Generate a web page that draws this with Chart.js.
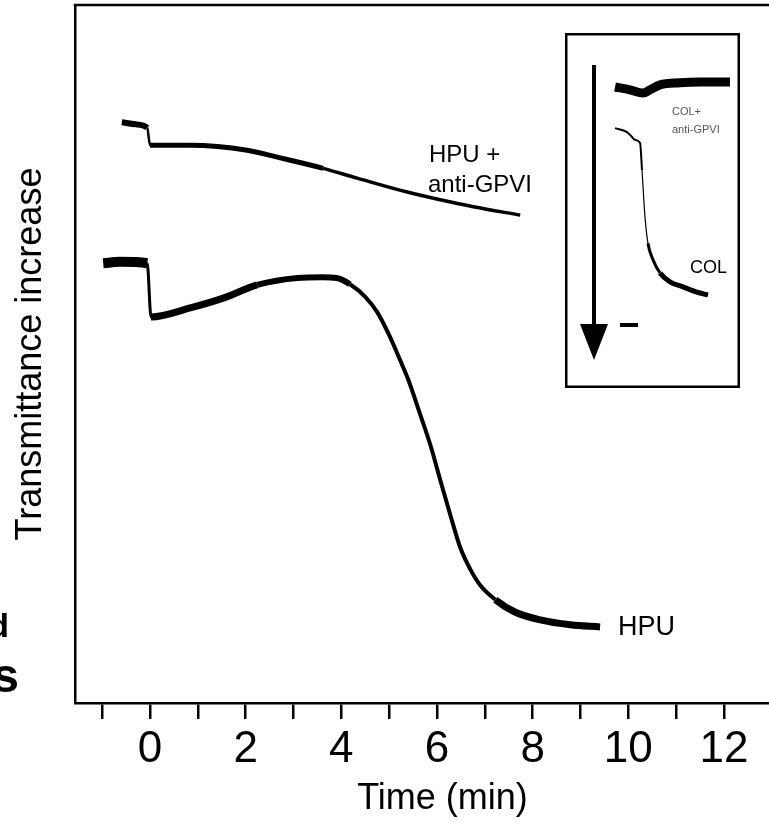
<!DOCTYPE html>
<html>
<head>
<meta charset="utf-8">
<script src="https://cdn.jsdelivr.net/npm/chart.js@4.4.0/dist/chart.umd.min.js"></script>
<style>
  html, body { margin: 0; padding: 0; background: #fff; overflow: hidden; }
  #wrap { position: relative; width: 769px; height: 825px; overflow: hidden; }
  #main { position: absolute; left: 0; top: 0; }
  #inset { position: absolute; left: 565px; top: 33px; }
</style>
</head>
<body>
<div id="wrap">
  <canvas id="main" width="810" height="825"></canvas>
  <canvas id="inset" width="175" height="355"></canvas>
</div>
<script>
// HPU + anti-GPVI trace (time in min, transmittance in arbitrary units)
const hpuAntiTime = [-0.59, -0.3, -0.06, 0.0, 0.84, 2.03, 2.66, 3.62, 4.33, 5.38, 6.07, 6.76, 7.74];
const hpuAntiValue = [83.2, 82.9, 82.4, 79.9, 79.9, 79.2, 78.2, 76.6, 75.2, 73.2, 72.1, 71.1, 69.9];

// HPU trace
const hpuTime = [-0.98, -0.63, -0.06, 0.02, 0.84, 1.53, 2.24, 3.08, 3.6, 3.9, 4.18, 4.5, 4.75, 5.0, 5.23,
  5.4, 5.65, 5.86, 6.07, 6.28, 6.49, 6.7, 6.9, 7.22, 7.64, 8.16, 8.79, 9.41];
const hpuValue = [63.0, 63.2, 63.0, 55.3, 56.6, 58.0, 59.9, 60.9, 61.0, 60.9, 60.0, 58.2, 56.0, 52.7, 49.1,
  46.3, 41.3, 37.0, 31.9, 26.9, 22.2, 19.1, 16.9, 14.8, 13.0, 11.9, 11.2, 10.9];

// x axis range
const xTickMin = -1.57;
const xTickMax = 13.8;

// inset traces (arbitrary units)
const insetAntiTime = [2.86, 3.71, 4.46, 4.86, 5.43, 6.57, 7.71, 9.43];
const insetAntiValue = [84.8, 84.0, 83.1, 84.0, 85.4, 86.0, 86.2, 86.2];
const insetColTime = [2.86, 3.54, 3.83, 4.0, 4.29, 4.4, 4.57, 4.74, 5.03, 5.43, 6.0, 6.74, 7.54, 8.17];
const insetColValue = [73.2, 72.1, 70.7, 69.9, 69.0, 61.4, 48.2, 40.8, 36.1, 32.4, 29.9, 28.5, 27.0, 26.2];

const FONT = "'Liberation Sans', Arial, Helvetica, sans-serif";

function toPoints(xs, ys) {
  return xs.map((x, i) => ({ x: x, y: ys[i] }));
}

// Frame and text labels for the main chart
const mainDecor = {
  id: 'mainDecor',
  afterDraw(chart) {
    const { ctx, chartArea } = chart;
    ctx.save();
    ctx.strokeStyle = '#000';
    ctx.lineWidth = 2.5;
    ctx.beginPath();
    ctx.moveTo(chartArea.left - 1.25, chartArea.top);
    ctx.lineTo(chartArea.right, chartArea.top);
    ctx.stroke();

    ctx.fillStyle = '#000';
    ctx.textBaseline = 'alphabetic';
    ctx.textAlign = 'left';
    ctx.font = '24px ' + FONT;
    ctx.fillText('HPU +', 429, 162);
    ctx.fillText('anti-GPVI', 428, 192);
    ctx.font = '27px ' + FONT;
    ctx.fillText('HPU', 618, 635);

    // cut-off text from the neighbouring panel
    ctx.font = 'bold 34px ' + FONT;
    ctx.textAlign = 'right';
    ctx.fillText('d', 9, 637);
    ctx.font = 'bold 48px ' + FONT;
    ctx.fillText('s', 19, 692);
    ctx.restore();
  }
};

new Chart(document.getElementById('main'), {
  type: 'line',
  data: {
    datasets: [
      {
        data: toPoints(hpuAntiTime, hpuAntiValue),
        borderColor: '#000',
        borderWidth: 4,
        pointRadius: 0,
        cubicInterpolationMode: 'monotone',
        segment: {
          borderWidth: c => {
            const x = c.p0.parsed.x;
            if (x < -0.07) return 6;
            if (x < -0.01) return 2.5;
            if (x < 3) return 5;
            return 3.5;
          }
        }
      },
      {
        data: toPoints(hpuTime, hpuValue),
        borderColor: '#000',
        borderWidth: 5,
        pointRadius: 0,
        cubicInterpolationMode: 'monotone',
        segment: {
          borderWidth: c => {
            const x = c.p0.parsed.x;
            if (x < -0.07) return 10;
            if (x < 0) return 3;
            if (x < 2) return 7;
            if (x < 4) return 6;
            if (x < 7) return 4;
            return 7;
          }
        }
      }
    ]
  },
  options: {
    responsive: false,
    animation: false,
    layout: { padding: { top: 5, right: 0, bottom: 0, left: 0 } },
    plugins: { legend: { display: false }, tooltip: { enabled: false } },
    scales: {
      x: {
        type: 'linear',
        min: xTickMin,
        max: xTickMax,
        afterFit: s => { s.height = 122; },
        border: { display: true, color: '#000', width: 2.5 },
        grid: { display: true, drawOnChartArea: false, drawTicks: true, tickLength: 16, color: '#000', lineWidth: 2.5 },
        ticks: {
          stepSize: 1,
          includeBounds: false,
          autoSkip: false,
          maxRotation: 0,
          minRotation: 0,
          padding: 4,
          color: '#000',
          font: { family: FONT, size: 44 },
          callback: v => (v % 2 === 0 ? String(v) : '')
        },
        title: {
          display: true,
          text: 'Time (min)',
          color: '#000',
          font: { family: FONT, size: 36 },
          padding: { top: 0, bottom: 4 }
        }
      },
      y: {
        min: 0,
        max: 100,
        afterFit: s => { s.width = 75; },
        border: { display: true, color: '#000', width: 2.5 },
        grid: { display: false },
        ticks: { display: false },
        title: {
          display: true,
          text: 'Transmittance increase',
          color: '#000',
          font: { family: FONT, size: 36 },
          padding: { top: 9, bottom: 0 }
        }
      }
    }
  },
  plugins: [mainDecor]
});

// Inset frame, arrow and labels
const insetDecor = {
  id: 'insetDecor',
  afterDraw(chart) {
    const { ctx, width, height } = chart;
    ctx.save();
    ctx.strokeStyle = '#000';
    ctx.lineWidth = 2.5;
    ctx.strokeRect(1.25, 1.25, width - 2.5, height - 2.5);

    // downward arrow
    ctx.fillStyle = '#000';
    ctx.fillRect(27, 32, 4, 262);
    ctx.beginPath();
    ctx.moveTo(15, 291);
    ctx.lineTo(43, 291);
    ctx.lineTo(29, 327);
    ctx.closePath();
    ctx.fill();
    ctx.fillRect(55, 290, 18, 4);

    ctx.textAlign = 'left';
    ctx.textBaseline = 'alphabetic';
    ctx.fillStyle = '#555';
    ctx.font = '11px ' + FONT;
    ctx.fillText('COL+', 107, 82);
    ctx.fillText('anti-GPVI', 107, 100);
    ctx.fillStyle = '#000';
    ctx.font = '18px ' + FONT;
    ctx.fillText('COL', 125, 240);
    ctx.restore();
  }
};

new Chart(document.getElementById('inset'), {
  type: 'line',
  data: {
    datasets: [
      {
        data: toPoints(insetAntiTime, insetAntiValue),
        borderColor: '#000',
        borderWidth: 9,
        pointRadius: 0,
        cubicInterpolationMode: 'monotone'
      },
      {
        data: toPoints(insetColTime, insetColValue),
        borderColor: '#000',
        borderWidth: 2,
        pointRadius: 0,
        cubicInterpolationMode: 'monotone',
        segment: {
          borderWidth: c => (c.p0.parsed.x < 4.3 ? 2 : (c.p0.parsed.x < 4.74 ? 1.2 : (c.p0.parsed.x < 5.43 ? 3 : 5)))
        }
      }
    ]
  },
  options: {
    responsive: false,
    animation: false,
    layout: { padding: 0 },
    plugins: { legend: { display: false }, tooltip: { enabled: false } },
    scales: {
      x: { type: 'linear', min: 0, max: 10, display: false },
      y: { min: 0, max: 100, display: false }
    }
  },
  plugins: [insetDecor]
});
</script>
</body>
</html>
